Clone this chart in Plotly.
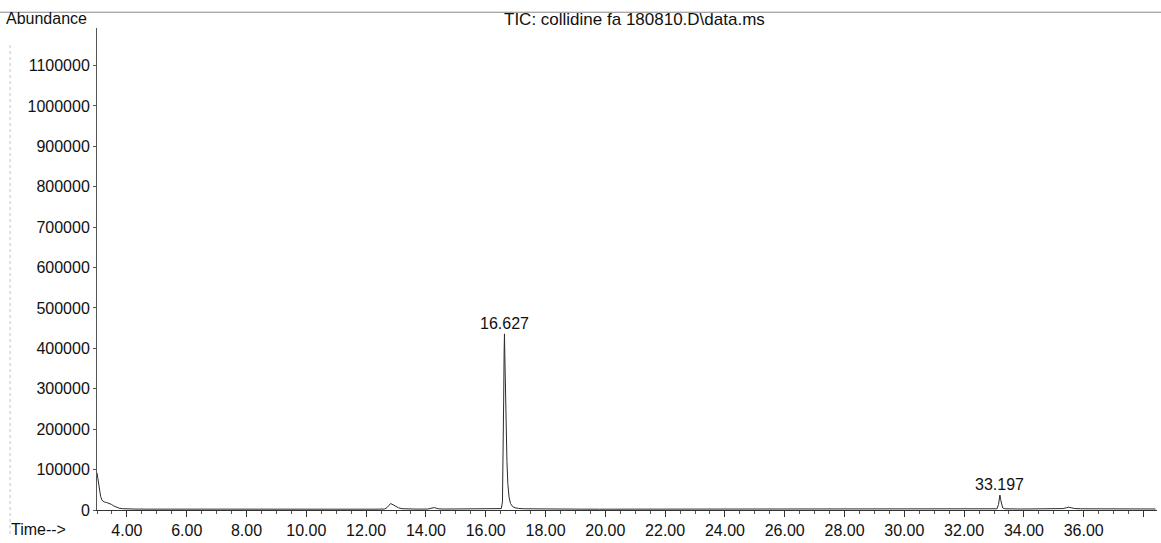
import plotly.graph_objects as go

# Total ion chromatogram: retention time (min) vs abundance
time_min = [
    3.00, 3.04, 3.08, 3.12, 3.17, 3.24, 3.32, 3.40, 3.48, 3.56, 3.64, 3.74, 3.86, 4.00,
    4.30, 4.70, 5.20, 5.80, 6.40, 7.00, 7.60, 8.20, 8.80, 9.40, 10.00, 10.60, 11.20,
    11.80, 12.30, 12.62, 12.70, 12.76, 12.82, 12.90, 12.98, 13.08, 13.20, 13.40, 13.70,
    14.05, 14.20, 14.28, 14.34, 14.42, 14.60, 15.00, 15.50, 16.00, 16.40, 16.52, 16.56,
    16.58, 16.60, 16.615, 16.627, 16.64, 16.66, 16.68, 16.71, 16.74, 16.78, 16.83, 16.90,
    16.98, 17.10, 17.30, 17.60, 18.00, 18.60, 19.20, 19.80, 20.40, 21.00, 21.60, 22.20,
    22.80, 23.40, 24.00, 24.60, 25.20, 25.80, 26.40, 27.00, 27.60, 28.20, 28.80, 29.40,
    30.00, 30.60, 31.20, 31.80, 32.40, 32.90, 33.10, 33.15, 33.18, 33.197, 33.22, 33.25,
    33.29, 33.36, 33.50, 33.80, 34.20, 34.60, 35.00, 35.30, 35.42, 35.50, 35.58, 35.70,
    35.90, 36.30, 36.80, 37.30, 37.80, 38.40,
]
abundance = [
    92000, 72000, 50000, 34000, 24000, 20000, 18500, 17000, 14000, 10000, 7000, 4500, 3200, 2600,
    2300, 2100, 2000, 1900, 1900, 1800, 1900, 1800, 1800, 1700, 1800, 1700, 1800,
    1900, 2000, 2400, 6000, 11000, 16000, 13000, 9000, 5500, 3200, 2400, 2200,
    2300, 3500, 6000, 4500, 3000, 2300, 2200, 2200, 2300, 2500, 3500, 20000,
    110000, 270000, 390000, 436000, 380000, 290000, 200000, 120000, 65000, 32000, 16000, 8500,
    5500, 3800, 3000, 2600, 2400, 2200, 2100, 2000, 2000, 1900, 1900, 1800,
    1900, 1800, 1800, 1800, 1700, 1800, 1800, 1700, 1800, 1800, 1800, 1900,
    1900, 1900, 2000, 2000, 2100, 2300, 3000, 14000, 28000, 37000, 26000, 12000,
    5000, 3000, 2600, 2500, 2600, 2800, 3000, 3500, 5500, 7000, 5500, 3600,
    3000, 2800, 2700, 2600, 2600, 2500,
]

# Labelled peaks (retention time, apex abundance)
peak_times = [16.627, 33.197]
peak_heights = [436000, 37000]
peak_labels = ["16.627", "33.197"]

# Axis ticks
x_tick_values = [4, 6, 8, 10, 12, 14, 16, 18, 20, 22, 24, 26, 28, 30, 32, 34, 36, 38]
x_tick_labels = ["4.00", "6.00", "8.00", "10.00", "12.00", "14.00", "16.00", "18.00",
                 "20.00", "22.00", "24.00", "26.00", "28.00", "30.00", "32.00", "34.00",
                 "36.00", ""]
y_tick_values = [0, 100000, 200000, 300000, 400000, 500000, 600000, 700000, 800000,
                 900000, 1000000, 1100000]
y_tick_labels = [str(v) for v in y_tick_values]

TITLE = "TIC: collidine fa 180810.D\\data.ms"
FONT = "Liberation Sans, Arial, sans-serif"
INK = "#111111"

fig = go.Figure()
fig.add_trace(go.Scatter(
    x=time_min, y=abundance, mode="lines",
    line=dict(color="#2b2b2b", width=1),
    hoverinfo="x+y", showlegend=False,
))

for t, h, lab in zip(peak_times, peak_heights, peak_labels):
    fig.add_annotation(x=t, y=h, text=lab, showarrow=False, yanchor="bottom",
                       yshift=0, font=dict(family=FONT, size=16, color=INK))

# Title, axis captions
fig.add_annotation(xref="paper", yref="paper", x=0.507, y=1.0, yanchor="bottom",
                   yshift=-3, text=TITLE, showarrow=False,
                   font=dict(family=FONT, size=17, color=INK))
fig.add_annotation(xref="paper", yref="paper", x=-0.088, y=1.0, xanchor="left",
                   yanchor="bottom", yshift=-1, text="Abundance", showarrow=False,
                   font=dict(family=FONT, size=16, color=INK))
fig.add_annotation(xref="paper", yref="paper", x=-0.083, y=0, xanchor="left",
                   yanchor="top", yshift=-9, text="Time-->", showarrow=False,
                   font=dict(family=FONT, size=16, color=INK))

# Page rule across the top and faint left frame line
fig.add_shape(type="line", xref="paper", yref="paper", x0=-0.0915, x1=1.004,
              y0=1.0327, y1=1.0327, line=dict(color="#8a8a8a", width=1))
fig.add_shape(type="line", xref="paper", yref="paper", x0=-0.082, x1=-0.082,
              y0=-0.05, y1=0.97, line=dict(color="#c4c4c4", width=1, dash="dot"))

fig.update_layout(
    width=1161, height=543,
    margin=dict(l=97, r=4, t=28, b=26),
    paper_bgcolor="white", plot_bgcolor="white",
    font=dict(family=FONT, size=16, color=INK),
    xaxis=dict(
        range=[3.0, 38.45], showgrid=False, zeroline=False,
        showline=True, linecolor="#333", linewidth=1,
        tickmode="array", tickvals=x_tick_values, ticktext=x_tick_labels,
        ticks="outside", ticklen=6, tickcolor="#333", tickwidth=1,
        minor=dict(tickmode="linear", tick0=0, dtick=0.5, ticks="outside",
                   ticklen=3, tickcolor="#555"),
        tickfont=dict(family=FONT, size=16, color=INK),
    ),
    yaxis=dict(
        range=[0, 1193000], showgrid=False, zeroline=False,
        showline=True, linecolor="#555", linewidth=1,
        tickmode="array", tickvals=y_tick_values, ticktext=y_tick_labels,
        ticks="outside", ticklen=3, tickcolor="#555",
        tickfont=dict(family=FONT, size=16, color=INK),
    ),
)

fig.write_html("out.html")
